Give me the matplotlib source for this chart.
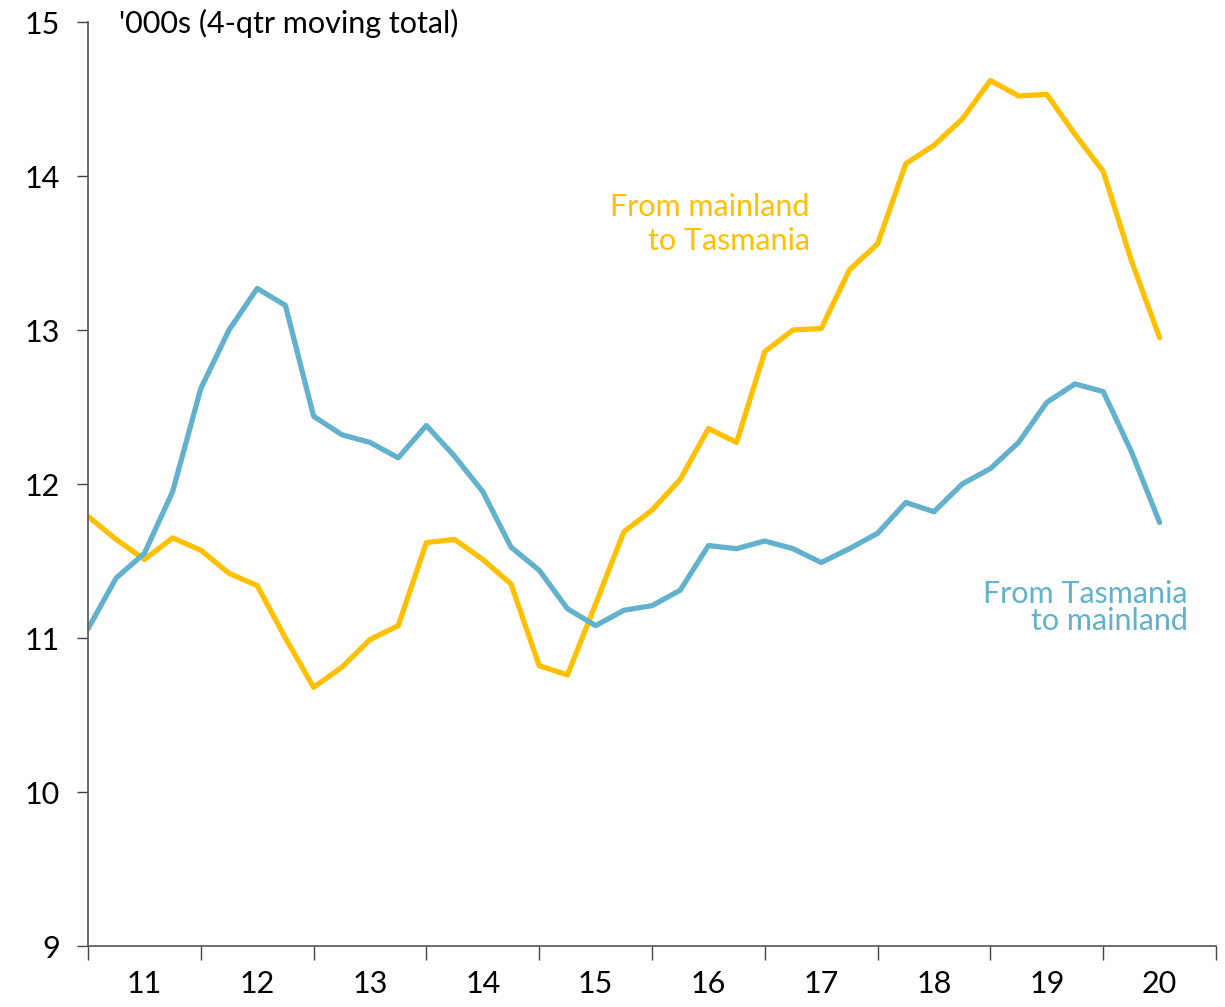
import matplotlib
matplotlib.use("Agg")
import matplotlib.pyplot as plt

plt.rcParams['font.family'] = ['Lato', 'DejaVu Sans']

# quarterly points, 2011 Q1 onwards (index 0 = start of 2011)
quarters = list(range(39))
to_tas = [11.79, 11.64, 11.51, 11.65, 11.57, 11.42, 11.34, 11.00, 10.68, 10.81,
          10.99, 11.08, 11.62, 11.64, 11.51, 11.35, 10.82, 10.76, 11.22, 11.69,
          11.83, 12.03, 12.36, 12.27, 12.86, 13.00, 13.01, 13.39, 13.56, 14.08,
          14.20, 14.37, 14.62, 14.52, 14.53, 14.27, 14.03, 13.45, 12.95]
to_main = [11.06, 11.39, 11.55, 11.95, 12.62, 13.00, 13.27, 13.16, 12.44, 12.32,
           12.27, 12.17, 12.38, 12.18, 11.95, 11.59, 11.44, 11.19, 11.08, 11.18,
           11.21, 11.31, 11.60, 11.58, 11.63, 11.58, 11.49, 11.58, 11.68, 11.88,
           11.82, 12.00, 12.10, 12.27, 12.53, 12.65, 12.60, 12.21, 11.75]
year_labels = ['11', '12', '13', '14', '15', '16', '17', '18', '19', '20']

yellow = '#FFC000'
blue = '#62B1CD'

fig = plt.figure(figsize=(12.25, 10.07), dpi=100)
ax = fig.add_axes([88 / 1225, 61 / 1007, 1128 / 1225, 924 / 1007])

ax.plot(quarters, to_tas, color=yellow, lw=3.8, solid_joinstyle='round', solid_capstyle='round')
ax.plot(quarters, to_main, color=blue, lw=3.8, solid_joinstyle='round', solid_capstyle='round')

ax.set_xlim(0, 40)
ax.set_ylim(9, 15)

# year boundary ticks, labels centred within each year
ax.set_xticks(range(0, 41, 4))
ax.set_xticklabels([])
ax.set_xticks([i * 4 + 2 for i in range(10)], minor=True)
ax.set_xticklabels(year_labels, minor=True)
ax.tick_params(axis='x', which='minor', length=0, pad=17, labelsize=22)
ax.tick_params(axis='x', which='major', length=10, width=1, color='#444444', direction='out')
ax.set_yticks(range(9, 16))
ax.tick_params(axis='y', length=8, width=1, color='#444444', pad=12, labelsize=22, direction='out')

for s in ['top', 'right']:
    ax.spines[s].set_visible(False)
for s in ['left', 'bottom']:
    ax.spines[s].set_color('#555555')
    ax.spines[s].set_linewidth(1.2)

ax.text(1.1, 14.99, "'000s (4-qtr moving total)", fontsize=22, va='center', ha='left')
ax.text(25.6, 13.69, 'From mainland\nto Tasmania', color=yellow, fontsize=22,
        ha='right', va='center', linespacing=1.25)
ax.text(39.0, 11.2, 'From Tasmania\nto mainland', color=blue, fontsize=22,
        ha='right', va='center', linespacing=0.97)

fig.savefig('out.png', dpi=100)
